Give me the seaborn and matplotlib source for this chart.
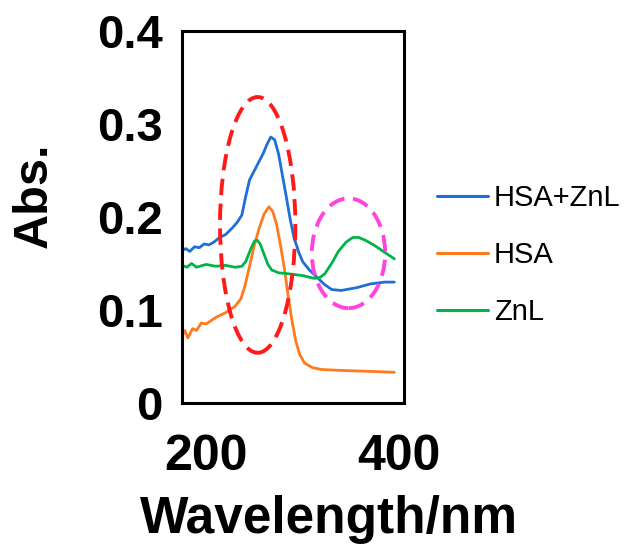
import numpy as np
import pandas as pd
import matplotlib
matplotlib.use("Agg")
import matplotlib.pyplot as plt
from matplotlib.patches import Ellipse
from matplotlib.lines import Line2D
import seaborn as sns

# ---- data ----
hsa_znl_x = [175, 179, 183, 188, 193, 198, 203, 208, 214, 220, 226, 232, 237, 241, 245, 250, 254, 259, 263, 267, 271, 275, 279, 283, 287, 291, 296, 300, 307, 315, 322, 330, 340, 356, 370, 385, 395]
hsa_znl_y = [0.164, 0.166, 0.163, 0.168, 0.167, 0.171, 0.170, 0.173, 0.178, 0.181, 0.187, 0.194, 0.202, 0.222, 0.240, 0.250, 0.258, 0.268, 0.278, 0.286, 0.283, 0.268, 0.245, 0.222, 0.198, 0.178, 0.162, 0.152, 0.143, 0.135, 0.128, 0.122, 0.121, 0.124, 0.128, 0.130, 0.130]

hsa_x = [175, 178, 181, 186, 190, 195, 200, 210, 220, 230, 236, 240, 245, 250, 255, 260, 265, 269, 273, 277, 281, 285, 289, 293, 297, 302, 310, 320, 340, 370, 395]
hsa_y = [0.072, 0.078, 0.070, 0.080, 0.078, 0.086, 0.085, 0.092, 0.097, 0.104, 0.112, 0.125, 0.147, 0.170, 0.188, 0.203, 0.211, 0.206, 0.192, 0.170, 0.145, 0.115, 0.088, 0.066, 0.052, 0.043, 0.038, 0.036, 0.035, 0.034, 0.033]

znl_x = [175, 180, 185, 190, 200, 210, 220, 230, 237, 241, 246, 250, 253, 256, 260, 264, 268, 275, 285, 300, 312, 318, 323, 330, 337, 345, 352, 358, 365, 375, 385, 395]
znl_y = [0.148, 0.146, 0.150, 0.146, 0.149, 0.147, 0.148, 0.146, 0.147, 0.152, 0.165, 0.174, 0.175, 0.171, 0.160, 0.149, 0.143, 0.140, 0.139, 0.137, 0.134, 0.135, 0.139, 0.150, 0.163, 0.173, 0.178, 0.178, 0.175, 0.169, 0.162, 0.155]

series_names = ["HSA+ZnL", "HSA", "ZnL"]
series_colors = ["#1F6FD6", "#FF7A1E", "#00B44A"]

x_ticks = [200, 400]
y_ticks = [0, 0.1, 0.2, 0.3, 0.4]
y_tick_labels = ["0", "0.1", "0.2", "0.3", "0.4"]

# annotation ellipses: (center x, center y, width, height, color)
ellipse_red = (253.4, 0.1915, 78, 0.275, "#FF1A1A")
ellipse_pink = (347.5, 0.161, 76, 0.118, "#FF44DD")

df = pd.concat([
    pd.DataFrame({"Wavelength": hsa_znl_x, "Abs": hsa_znl_y, "Sample": "HSA+ZnL"}),
    pd.DataFrame({"Wavelength": hsa_x, "Abs": hsa_y, "Sample": "HSA"}),
    pd.DataFrame({"Wavelength": znl_x, "Abs": znl_y, "Sample": "ZnL"}),
], ignore_index=True)

sns.set_style("white")
plt.rcParams["font.family"] = ["Liberation Sans", "DejaVu Sans"]
plt.rcParams["text.color"] = "black"
plt.rcParams["axes.labelcolor"] = "black"
plt.rcParams["xtick.color"] = "black"
plt.rcParams["ytick.color"] = "black"

fig = plt.figure(figsize=(6.29, 5.45), dpi=100)
ax = fig.add_axes([182/629, 1-403/545, (404-182)/629, (403-31)/545])

sns.lineplot(data=df, x="Wavelength", y="Abs", hue="Sample",
             hue_order=series_names, palette=series_colors,
             linewidth=2.0, ax=ax, legend=False, sort=True, estimator=None)

for (cx, cy, w, h, c) in [ellipse_red, ellipse_pink]:
    ax.add_patch(Ellipse((cx, cy), w, h, fill=False, edgecolor=c,
                         linewidth=2.8, linestyle=(0, (4.2, 2.2)), zorder=5))

ax.set_xlim(175, 405)
ax.set_ylim(0, 0.4)
ax.set_xticks(x_ticks)
ax.set_xticklabels([str(t) for t in x_ticks], fontsize=36, fontweight="bold")
ax.set_yticks(y_ticks)
ax.set_yticklabels(y_tick_labels, fontsize=34, fontweight="bold")
ax.tick_params(axis="x", length=0, pad=22, labelcolor="black")
ax.tick_params(axis="y", direction="in", length=6, width=1.5, pad=14, labelcolor="black")

for s in ax.spines.values():
    s.set_visible(True)
    s.set_color("black")
    s.set_linewidth(2.2)

ax.set_xlabel("Wavelength/nm", fontsize=37, fontweight="bold", color="black")
ax.xaxis.set_label_coords((329-182)/222, -(533-403)/372, transform=ax.transAxes)
ax.xaxis.label.set_va("baseline")
ax.set_ylabel("Abs.", fontsize=35, fontweight="bold", color="black")
ax.yaxis.set_label_coords((57-182)/222, (403-195)/372)

handles = [Line2D([0], [0], color=c, linewidth=2.2) for c in series_colors]
fig.legend(handles, series_names, loc="upper left",
           bbox_to_anchor=(437/629, 1-184/545), frameon=False,
           fontsize=21, handlelength=1.75, handletextpad=0.2,
           labelspacing=1.0, borderpad=0, borderaxespad=0, labelcolor="black")

fig.savefig("out.png", dpi=100)
